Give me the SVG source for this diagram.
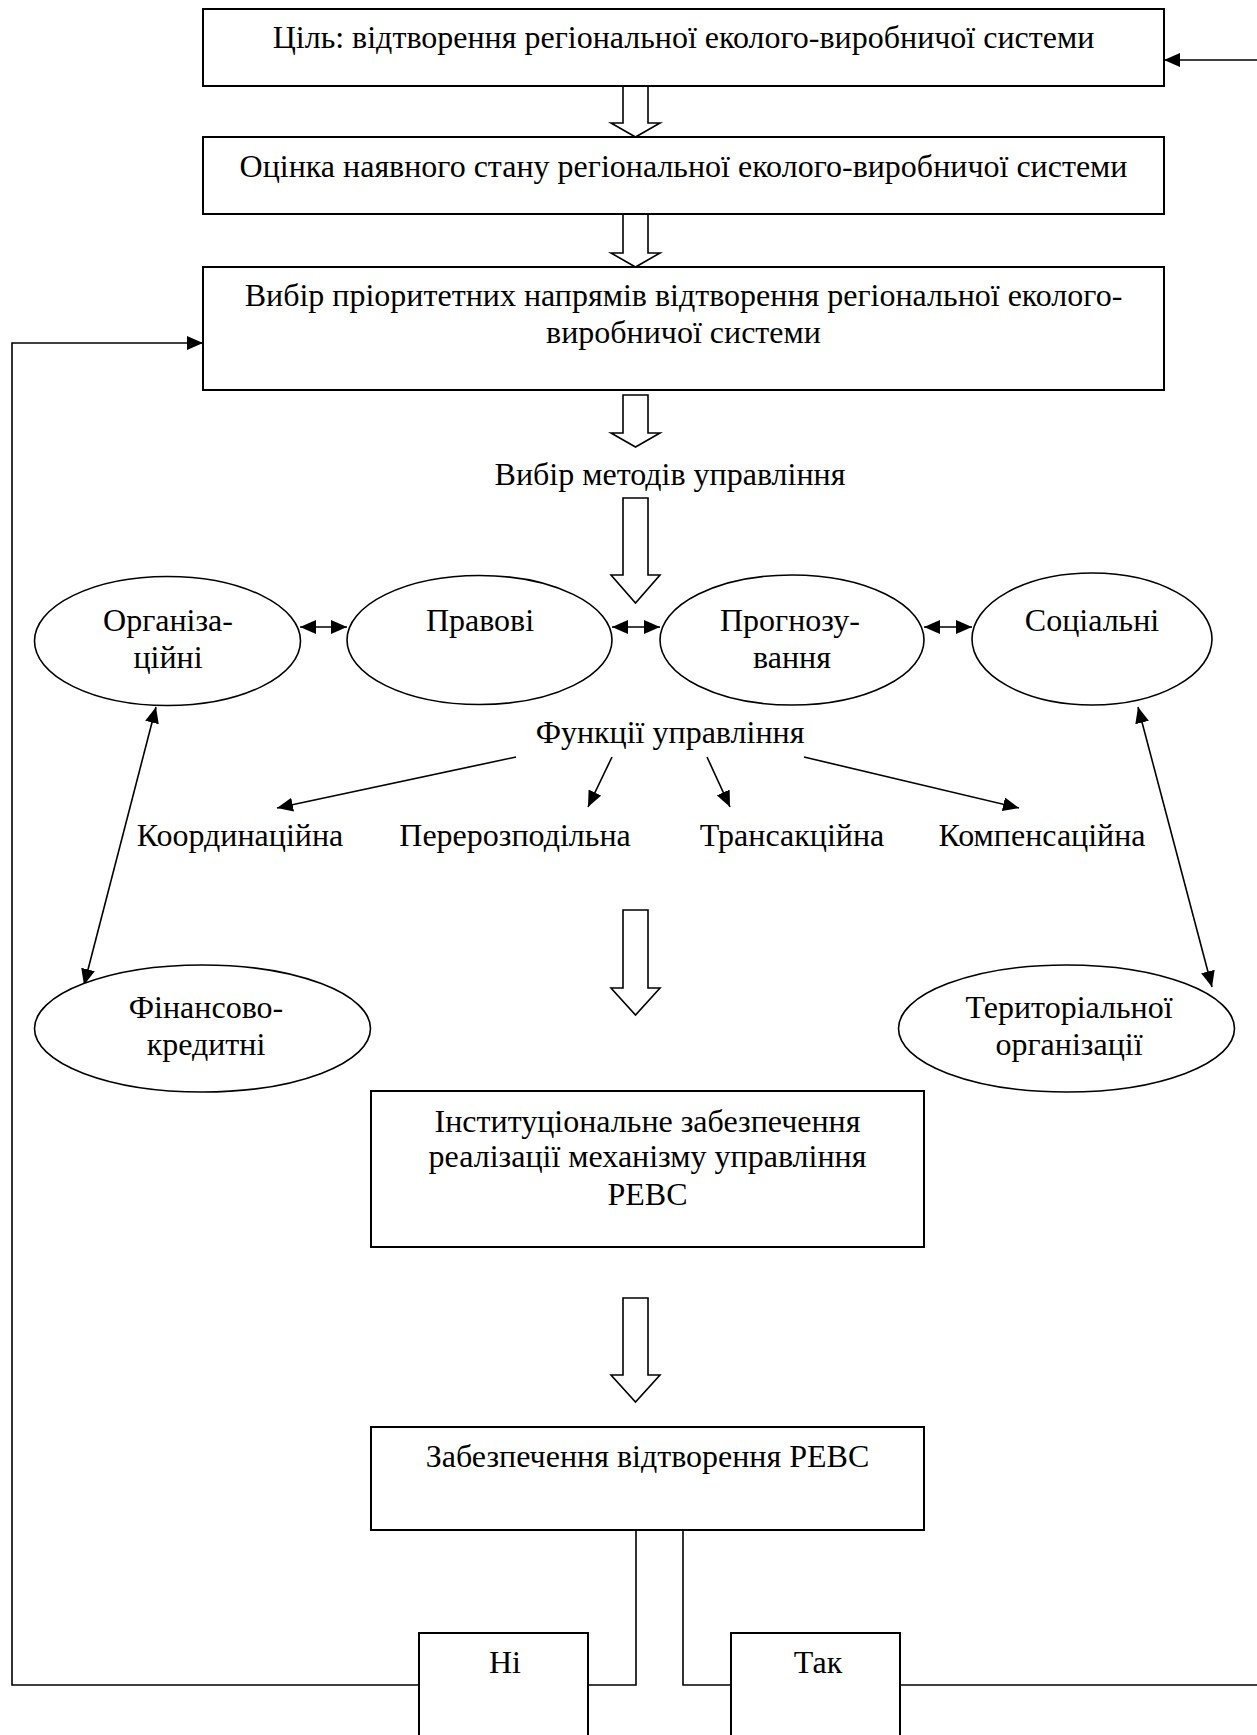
<svg xmlns="http://www.w3.org/2000/svg" width="1257" height="1735" viewBox="0 0 1257 1735">
<style>
text{font-family:"Liberation Serif","Times New Roman",serif;font-size:32px;fill:#000;text-anchor:middle}
.box{fill:#fff;stroke:#000;stroke-width:2}
.ell{fill:#fff;stroke:#000;stroke-width:1.6}
.blk{fill:#fff;stroke:#000;stroke-width:1.6;stroke-linejoin:miter}
.con{fill:none;stroke:#000;stroke-width:1.6}
.arr{marker-end:url(#ah)}
.dbl{marker-start:url(#ah);marker-end:url(#ah)}
</style>
<defs>
<marker id="ah" markerUnits="userSpaceOnUse" markerWidth="16" markerHeight="14" refX="16" refY="7" orient="auto-start-reverse">
<path d="M0,0 L16,7 L0,14 z" fill="#000"/>
</marker>
</defs>
<rect width="1257" height="1735" fill="#fff"/>

<g id="connectors">
<polygon class="blk" points="623,86 648,86 648,123 660,123 635.5,137 611,123 623,123"/>
<polygon class="blk" points="623,214 648,214 648,253 660,253 635.5,267 611,253 623,253"/>
<polygon class="blk" points="623,395 648,395 648,433 660,433 635.5,447 611,433 623,433"/>
<polygon class="blk" points="623,498 648,498 648,575 660,575 635.5,603 611,575 623,575"/>
<polygon class="blk" points="623,910 648,910 648,988 660,988 635.5,1015 611,988 623,988"/>
<polygon class="blk" points="623,1298 648,1298 648,1375 660,1375 635.5,1402 611,1375 623,1375"/>
<line class="con dbl" x1="300" y1="627" x2="347" y2="627"/>
<line class="con dbl" x1="612" y1="627" x2="660" y2="627"/>
<line class="con dbl" x1="924" y1="627" x2="972" y2="627"/>
<line class="con arr" x1="516" y1="757" x2="277" y2="808"/>
<line class="con arr" x1="612" y1="757" x2="588" y2="807"/>
<line class="con arr" x1="707" y1="757" x2="730" y2="807"/>
<line class="con arr" x1="804" y1="757" x2="1019" y2="808"/>
<line class="con dbl" x1="156" y1="707" x2="84" y2="985"/>
<line class="con dbl" x1="1138" y1="707" x2="1212" y2="987"/>
<polyline class="con" points="636,1530 636,1685 588,1685"/>
<polyline class="con" points="683,1530 683,1685 731,1685"/>
<polyline class="con arr" points="419,1685 12,1685 12,343 203,343"/>
<line class="con" x1="900" y1="1685" x2="1257" y2="1685"/>
<line class="con arr" x1="1257" y1="60" x2="1164" y2="60"/>
</g>

<g id="goal">
<rect class="box" x="203" y="9" width="961" height="77"/>
<text x="683.5" y="48">Ціль: відтворення регіональної еколого-виробничої системи</text>
</g>
<g id="assessment">
<rect class="box" x="203" y="137" width="961" height="77"/>
<text x="683.5" y="177">Оцінка наявного стану регіональної еколого-виробничої системи</text>
</g>
<g id="priorities">
<rect class="box" x="203" y="267" width="961" height="123"/>
<text x="683.5" y="306">Вибір пріоритетних напрямів відтворення регіональної еколого-</text>
<text x="683.5" y="343">виробничої системи</text>
</g>
<g id="methods-label">
<text x="670" y="485">Вибір методів управління</text>
</g>
<g id="organizational">
<ellipse class="ell" cx="167.5" cy="641" rx="133" ry="64.5"/>
<text x="168" y="631">Організа-</text>
<text x="168" y="668">ційні</text>
</g>
<g id="legal">
<ellipse class="ell" cx="479.5" cy="640" rx="132.5" ry="64.5"/>
<text x="480" y="631">Правові</text>
</g>
<g id="forecasting">
<ellipse class="ell" cx="792" cy="640" rx="132" ry="65"/>
<text x="790" y="631">Прогнозу-</text>
<text x="792" y="668">вання</text>
</g>
<g id="social">
<ellipse class="ell" cx="1092" cy="639" rx="120" ry="66"/>
<text x="1092" y="631">Соціальні</text>
</g>
<g id="functions-label">
<text x="670" y="743">Функції управління</text>
</g>
<g id="coordination"><text x="240" y="846">Координаційна</text></g>
<g id="redistribution"><text x="515" y="846">Перерозподільна</text></g>
<g id="transaction"><text x="792" y="846">Трансакційна</text></g>
<g id="compensation"><text x="1042" y="846">Компенсаційна</text></g>
<g id="financial">
<ellipse class="ell" cx="202.5" cy="1028.5" rx="168" ry="63.5"/>
<text x="206" y="1018">Фінансово-</text>
<text x="206" y="1055">кредитні</text>
</g>
<g id="territorial">
<ellipse class="ell" cx="1066.5" cy="1028.5" rx="168" ry="63.5"/>
<text x="1069" y="1018">Територіальної</text>
<text x="1069" y="1055">організації</text>
</g>
<g id="institutional">
<rect class="box" x="371" y="1091" width="553" height="156"/>
<text x="647.5" y="1132">Інституціональне забезпечення</text>
<text x="647.5" y="1167">реалізації механізму управління</text>
<text x="647.5" y="1205">РЕВС</text>
</g>
<g id="provision">
<rect class="box" x="371" y="1427" width="553" height="103"/>
<text x="647.5" y="1467">Забезпечення відтворення РЕВС</text>
</g>
<g id="no">
<rect class="box" x="419" y="1633" width="169" height="120"/>
<text x="505" y="1673">Ні</text>
</g>
<g id="yes">
<rect class="box" x="731" y="1633" width="169" height="120"/>
<text x="818" y="1673">Так</text>
</g>
</svg>
